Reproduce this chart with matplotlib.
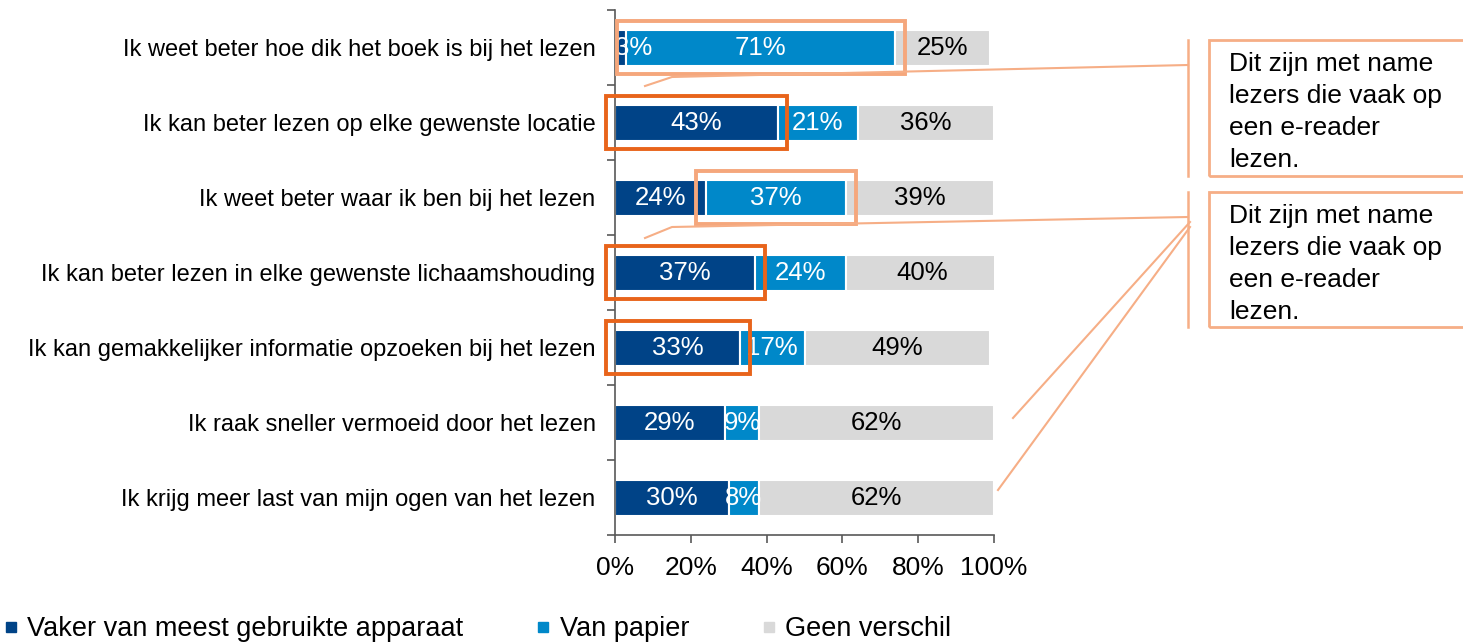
import matplotlib
matplotlib.use("Agg")
import matplotlib.pyplot as plt
from matplotlib.patches import Rectangle
from matplotlib.lines import Line2D

plt.rcParams['font.family'] = ['Liberation Sans', 'DejaVu Sans']

categories = [
    "Ik weet beter hoe dik het boek is bij het lezen",
    "Ik kan beter lezen op elke gewenste locatie",
    "Ik weet beter waar ik ben bij het lezen",
    "Ik kan beter lezen in elke gewenste lichaamshouding",
    "Ik kan gemakkelijker informatie opzoeken bij het lezen",
    "Ik raak sneller vermoeid door het lezen",
    "Ik krijg meer last van mijn ogen van het lezen",
]
series_names = ["Vaker van meest gebruikte apparaat", "Van papier", "Geen verschil"]
apparaat = [3, 43, 24, 37, 33, 29, 30]
papier = [71, 21, 37, 24, 17, 9, 8]
geen = [25, 36, 39, 40, 49, 62, 62]
colors = ["#004387", "#0088C9", "#D9D9D9"]
label_colors = ["white", "white", "black"]

# (row, segment) pairs that are outlined, and whether in dark or light orange
highlights = [(0, 1, "light"), (1, 0, "dark"), (2, 1, "light"), (3, 0, "dark"), (4, 0, "dark")]
callout = "Dit zijn met name\nlezers die vaak op\neen e-reader\nlezen."

W, H = 1463, 644
fig = plt.figure(figsize=(W / 100, H / 100), dpi=100)
ax = fig.add_axes([615 / W, 1 - 535 / H, 379 / W, 525 / H])

values = [apparaat, papier, geen]
y = list(range(len(categories)))
left = [0] * len(categories)
starts = []
for vals, c, lc in zip(values, colors, label_colors):
    ax.barh(y, vals, left=left, height=0.48, color=c, edgecolor="white", linewidth=1.5)
    starts.append(list(left))
    for i, v in enumerate(vals):
        ax.text(max(left[i] + v / 2, 5), i, f"{v}%", ha="center", va="center",
                color=lc, fontsize=18.5, clip_on=True)
    left = [l + v for l, v in zip(left, vals)]

orange = {"dark": "#E8641B", "light": "#F5A77C"}
for row, seg, tone in highlights:
    x0 = starts[seg][row] - 2.5
    w = values[seg][row] + 5
    ax.add_patch(Rectangle((x0, row - 0.35), w, 0.7, fill=False, edgecolor=orange[tone],
                           linewidth=2.8, clip_on=False, zorder=5))

ax.set_xlim(0, 100)
ax.set_ylim(len(categories) - 0.5, -0.5)
ax.set_xticks(range(0, 101, 20))
ax.set_xticklabels([f"{t}%" for t in range(0, 101, 20)], fontsize=19)
ax.set_yticks(y)
ax.set_yticklabels(categories, fontsize=17)
ax.set_yticks([i - 0.5 for i in range(len(categories) + 1)], minor=True)
ax.tick_params(axis="y", which="major", length=0, pad=14)
ax.tick_params(axis="y", which="minor", length=6, color="#595959", width=1.2)
ax.tick_params(axis="x", length=6, color="#595959", width=1.2, pad=9)
for s in ["top", "right"]:
    ax.spines[s].set_visible(False)
for s in ["left", "bottom"]:
    ax.spines[s].set_color("#595959")
    ax.spines[s].set_linewidth(1.2)


def px(x, yy):
    return x / W, 1 - yy / H


line_c = "#F6AE86"
# callout boxes and connector lines, in figure pixels
for top, bottom in [(40, 176), (192, 327)]:
    fig.add_artist(Rectangle(px(1209, bottom), 300 / W, (bottom - top) / H, fill=False,
                             edgecolor=line_c, linewidth=2, transform=fig.transFigure))
    fig.add_artist(Line2D(*zip(px(1188, top), px(1188, bottom)), color=line_c, lw=1.8,
                          transform=fig.transFigure))
    fig.text(*px(1229, top + 12), callout, fontsize=19, va="top", ha="left", linespacing=1.42)

for pts in [[(1188, 65), (672, 77), (645, 86)],
            [(1188, 217), (672, 227), (645, 238)],
            [(1190, 222), (1013, 418)],
            [(1190, 227), (998, 490)]]:
    xs, ys = zip(*[px(a, b) for a, b in pts])
    fig.add_artist(Line2D(xs, ys, color=line_c, lw=1.5, transform=fig.transFigure))

handles = [Line2D([], [], marker="s", linestyle="none", markersize=7, color=c) for c in colors]
fig.legend(handles, series_names, loc="lower left", bbox_to_anchor=(0.002, 0.003), ncol=3,
           frameon=False, handlelength=0.6, handletextpad=0.3, columnspacing=2.65,
           borderaxespad=0, borderpad=0, prop={"size": 19.5})

fig.savefig("out.png", dpi=100)
